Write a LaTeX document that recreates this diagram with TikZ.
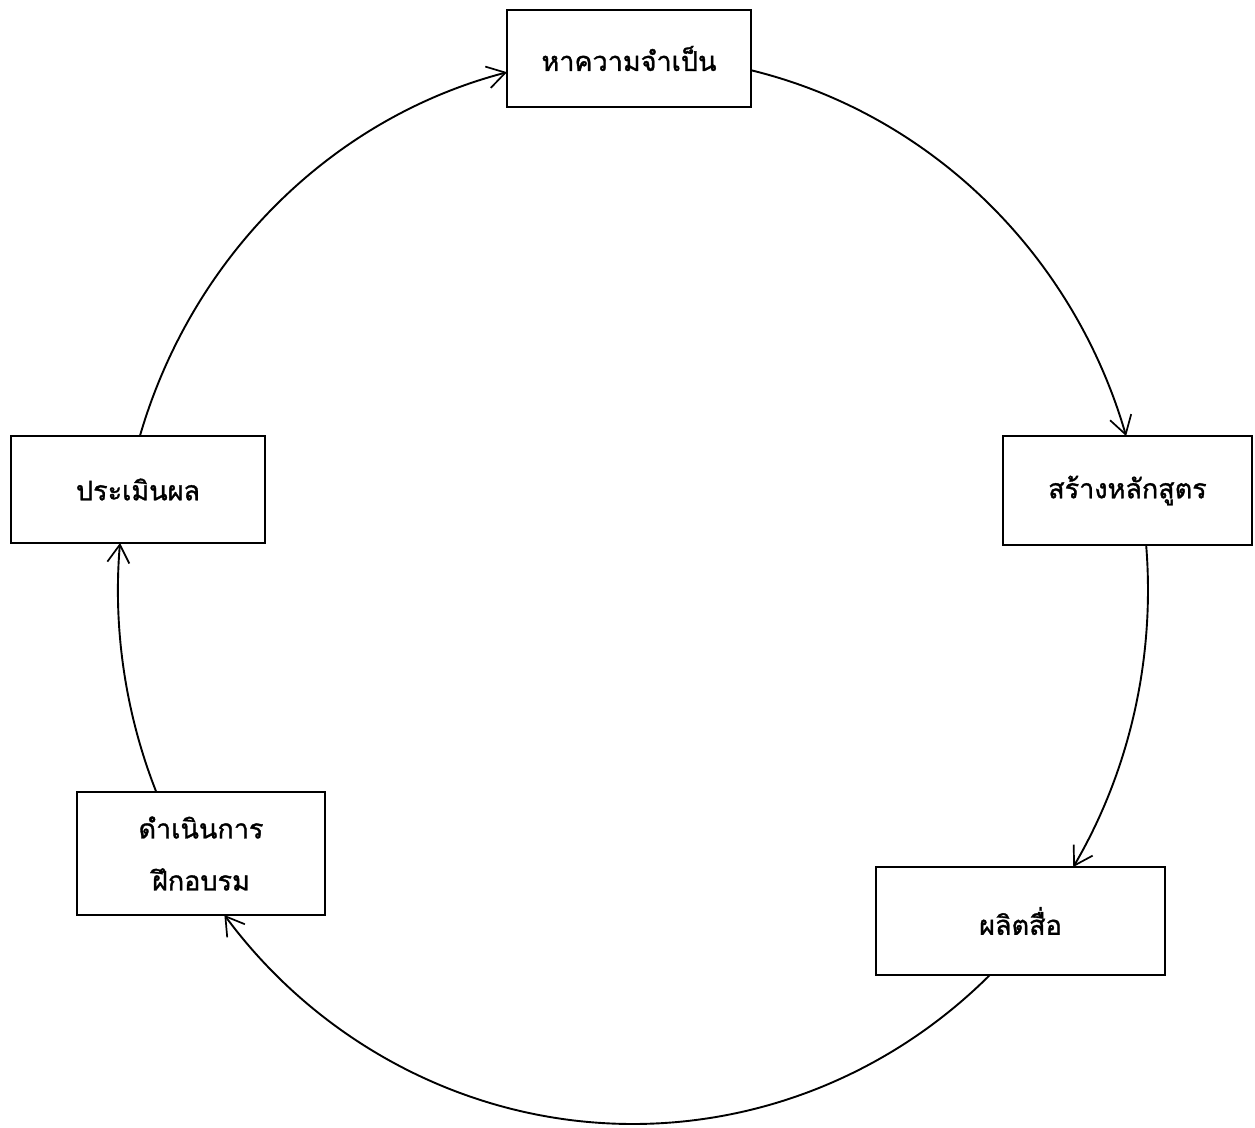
\documentclass[tikz,border=0pt]{standalone}
\usepackage{fontspec}
\newfontfamily\thaifont[Script=Thai,FakeBold=1.2]{Loma}
\usetikzlibrary{arrows.meta,calc}
\begin{document}
\begin{tikzpicture}[x=1pt,y=1pt,
  stepbox/.style={draw=black,line width=2.2pt,rectangle,inner sep=0pt,align=center,
    font=\thaifont\fontsize{27}{52}\selectfont},
  cyc/.style={draw=black,line width=1.9pt,-{Straight Barb[length=18pt,width=22pt,line width=1.7pt]}}]
\useasboundingbox[fill=white] (0,0) rectangle (1255,-1127);
\coordinate (c) at (633,-590);
\node[stepbox,minimum width=244pt,minimum height=97pt] (need) at (629,-58.5) {หาความจำเป็น};
\node[stepbox,minimum width=249pt,minimum height=109pt] (curr) at (1127.5,-490.5) {สร้างหลักสูตร};
\node[stepbox,minimum width=289pt,minimum height=108pt] (media) at (1020.5,-921) {ผลิตสื่อ};
\node[stepbox,minimum width=248pt,minimum height=123pt] (train) at (201,-853.5) {ดำเนินการ\\ฝึกอบรม};
\node[stepbox,minimum width=254pt,minimum height=107pt] (eval) at (138,-489.5) {ประเมินผล};
\coordinate (a1) at ($(c)+(76.75:515 and 534)$);
\coordinate (a2) at ($(c)+(4.83:515 and 534)$);
\coordinate (a3) at ($(c)+(-46.13:515 and 534)$);
\coordinate (a4) at ($(c)+(-157.77:515 and 534)$);
\coordinate (a5) at ($(c)+(-196.76:515 and 534)$);
\draw[cyc] (a1) arc[start angle=76.75,end angle=16.76,x radius=515,y radius=534];
\draw[cyc] (a2) arc[start angle=4.83,end angle=-31.25,x radius=515,y radius=534];
\draw[cyc] (a3) arc[start angle=-46.13,end angle=-142.51,x radius=515,y radius=534];
\draw[cyc] (a4) arc[start angle=-157.77,end angle=-185.05,x radius=515,y radius=534];
\draw[cyc] (a5) arc[start angle=-196.76,end angle=-255.84,x radius=515,y radius=534];
\end{tikzpicture}
\end{document}
